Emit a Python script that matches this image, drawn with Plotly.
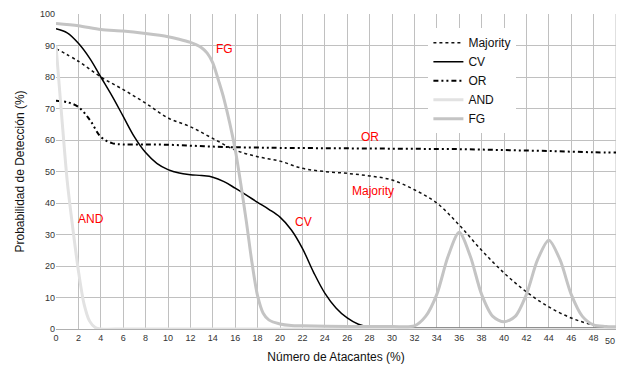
import plotly.graph_objects as go

# ---- data ----
maj_x = [0, 2, 4, 6, 8, 10, 12, 14, 16, 18, 20, 22, 24, 26, 28, 30, 32, 34, 36, 38, 40, 42, 44, 46, 48, 50]
maj_y = [89, 85, 80, 76, 71.7, 67, 64.2, 60.5, 56.8, 54.7, 53.3, 51, 50, 49.4, 48.6, 47.3, 44.2, 40, 33, 25, 17.8, 11.8, 7, 3.5, 1.3, 0.6]

cv_x = [0, 1, 2, 3, 4, 5, 6, 7, 8, 9, 10, 11, 12, 13, 14, 15, 16, 17, 18, 19, 20, 21, 22, 23, 24, 25, 26, 27, 28, 30, 35, 40, 45, 50]
cv_y = [95.3, 94, 90.7, 86, 80, 74, 67.5, 61, 56, 52.6, 50.6, 49.5, 49, 48.7, 48.2, 46.8, 44.7, 42.5, 40.2, 38, 35.5, 31.5, 25.6, 18, 11.4, 6.7, 3.5, 1.5, 0.7, 0.4, 0.3, 0.3, 0.3, 0.3]

or_x = [0, 1, 2, 3, 4, 5, 6, 8, 10, 12, 14, 16, 18, 20, 24, 28, 32, 36, 40, 44, 48, 50]
or_y = [72.5, 72, 70.5, 66.5, 61, 59, 58.6, 58.6, 58.5, 58.2, 57.9, 57.7, 57.6, 57.5, 57.4, 57.3, 57.2, 57.1, 56.8, 56.5, 56.1, 56]

and_x = [0, 0.5, 1, 1.5, 2, 2.5, 3, 3.5, 4, 6, 10, 20, 30, 40, 50]
and_y = [90, 68, 47, 32, 18.5, 8, 2.5, 0.5, 0, 0, 0, 0, 0, 0, 0]

fg_x = [0, 2, 4, 6, 8, 10, 11, 12, 12.5, 13, 13.5, 14, 14.5, 15, 16, 16.5, 17, 17.5, 18, 18.5, 19, 20, 21, 22, 26, 30, 32, 33, 34, 35, 36, 37, 38, 39, 40, 41, 42, 43, 44, 45, 46, 47, 48, 49, 50]
fg_y = [97, 96.3, 95.1, 94.6, 93.8, 92.8, 92, 91, 90.3, 89.3, 87.6, 84.5, 79, 73, 57, 46, 34, 21, 10.5, 5, 2.9, 1.6, 1.1, 1, 0.8, 0.8, 1, 4, 11, 23, 30.7, 23, 11, 4, 2.3, 4, 11, 22, 28.2, 22, 11, 4, 1.3, 0.8, 0.7]

x_ticks = list(range(0, 51, 2))
y_ticks = list(range(0, 101, 10))

labels = ["FG", "OR", "Majority", "CV", "AND"]
label_x = [15, 28, 28.3, 22.1, 3.15]
label_y = [89, 61, 43.8, 33.9, 34.8]

FONT = "Liberation Sans, Arial, sans-serif"

fig = go.Figure()
fig.add_trace(go.Scatter(x=maj_x, y=maj_y, name="Majority", mode="lines",
                         line=dict(color="#111111", width=1.5, dash="3px,3px", shape="spline", smoothing=1.0)))
fig.add_trace(go.Scatter(x=cv_x, y=cv_y, name="CV", mode="lines",
                         line=dict(color="#000000", width=1.5, shape="spline", smoothing=1.0)))
fig.add_trace(go.Scatter(x=or_x, y=or_y, name="OR", mode="lines",
                         line=dict(color="#000000", width=2, dash="5px,3px,2px,3px,2px,3px", shape="spline", smoothing=1.0)))
fig.add_trace(go.Scatter(x=and_x, y=and_y, name="AND", mode="lines",
                         line=dict(color="#e2e2e2", width=3, shape="spline", smoothing=0.8)))
fig.add_trace(go.Scatter(x=fg_x, y=fg_y, name="FG", mode="lines",
                         line=dict(color="#c4c4c4", width=3, shape="spline", smoothing=0.8)))

for t, xx, yy in zip(labels, label_x, label_y):
    fig.add_annotation(x=xx, y=yy, text=t, showarrow=False,
                       font=dict(color="#ff0000", size=12, family=FONT))

# last x tick label, kept inside the page at the right edge
fig.add_annotation(x=x_ticks[-1], y=0, xref="x", yref="paper", yanchor="top", yshift=-5,
                   text=str(x_ticks[-1]), showarrow=False, xanchor="right", xshift=1,
                   font=dict(size=9, color="#333333", family=FONT))

fig.update_layout(
    width=618, height=370,
    margin=dict(l=56, r=2, t=14, b=41),
    paper_bgcolor="white", plot_bgcolor="white",
    font=dict(family=FONT, color="#222222"),
    showlegend=True,
    legend=dict(x=0.665, y=0.955, xanchor="left", yanchor="top",
                bgcolor="white", font=dict(size=12, color="#111111", family=FONT),
                tracegroupgap=0, itemwidth=30),
    xaxis=dict(range=[0, 50], tickvals=x_ticks[:-1], ticktext=[str(v) for v in x_ticks[:-1]],
               showgrid=True, gridcolor="#c0c0c0", gridwidth=1, zeroline=False,
               showline=True, linecolor="#b0b0b0", ticks="", tickfont=dict(size=9, color="#333333"),
               title=dict(text="Número de Atacantes (%)", font=dict(size=12, color="#111111"), standoff=10)),
    yaxis=dict(range=[0, 100], tickvals=y_ticks,
               showgrid=True, gridcolor="#c0c0c0", gridwidth=1, zeroline=False,
               showline=False, ticks="", tickfont=dict(size=9, color="#333333"),
               title=dict(text="Probabilidad de Detección (%)", font=dict(size=12, color="#111111"), standoff=12)),
)
fig.add_shape(type="line", xref="x", yref="paper", x0=x_ticks[-1], x1=x_ticks[-1], y0=0, y1=1,
              line=dict(color="#c0c0c0", width=1), layer="below")

fig.write_html("out.html")
